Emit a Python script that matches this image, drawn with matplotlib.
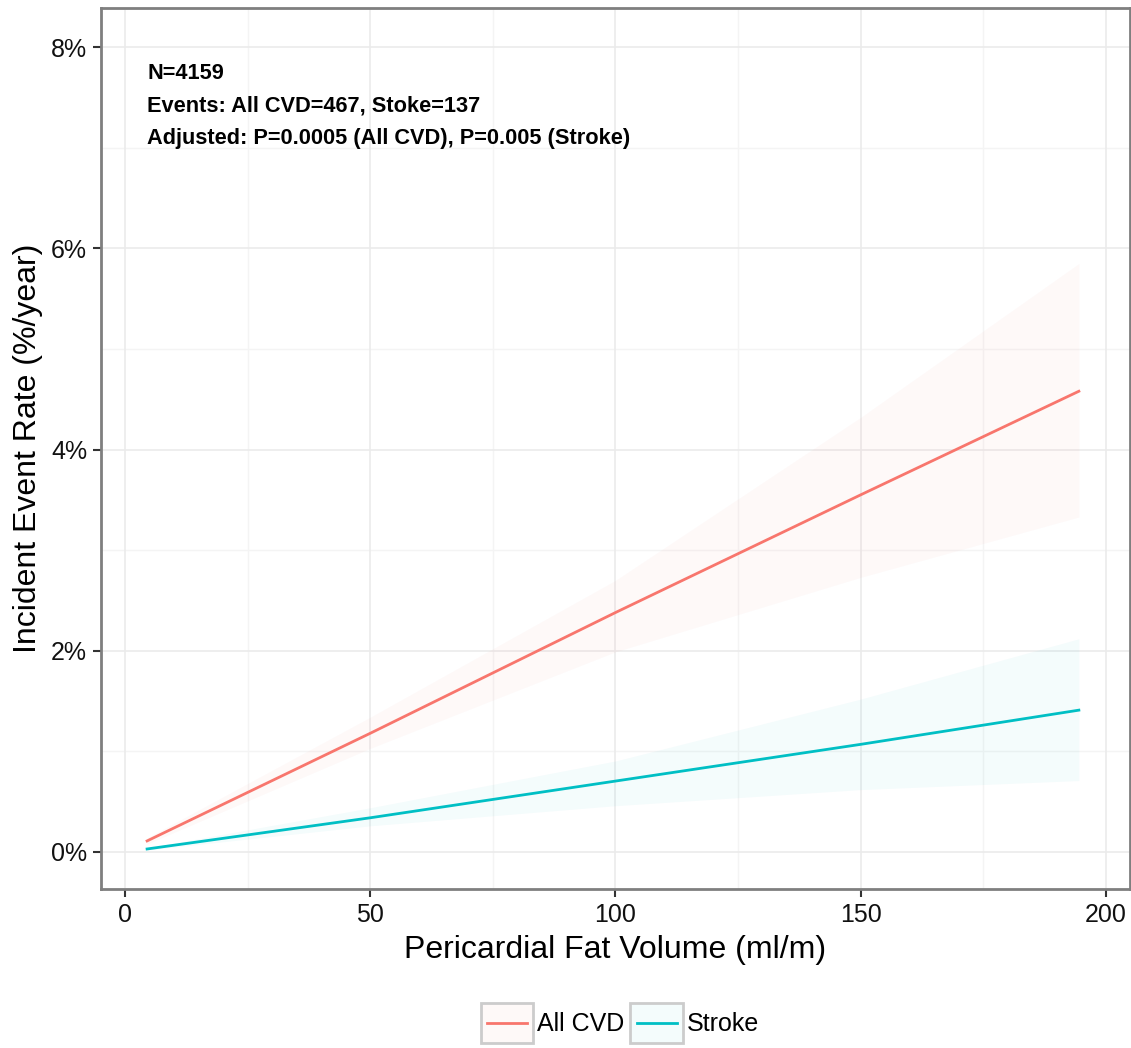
import matplotlib
matplotlib.use("Agg")
import matplotlib.pyplot as plt
from matplotlib.patches import Rectangle
from matplotlib.lines import Line2D
from matplotlib.legend_handler import HandlerBase
import numpy as np

plt.rcParams['font.family'] = ['Liberation Sans', 'DejaVu Sans']

# valores (x en ml/m, y en %/year)
fat_volume = [4.5, 50, 100, 150, 194.5]
cvd_rate = [0.11, 1.18, 2.38, 3.55, 4.58]
cvd_lower = [0.08, 1.03, 1.99, 2.73, 3.33]
cvd_upper = [0.14, 1.34, 2.70, 4.32, 5.85]
stroke_rate = [0.03, 0.34, 0.705, 1.07, 1.41]
stroke_lower = [0.02, 0.26, 0.46, 0.62, 0.71]
stroke_upper = [0.04, 0.44, 0.905, 1.52, 2.12]

series_names = ["All CVD", "Stroke"]
x_ticks = [0, 50, 100, 150, 200]
y_ticks = [0, 2, 4, 6, 8]
notes = ["N=4159", "Events: All CVD=467, Stoke=137",
         "Adjusted: P=0.0005 (All CVD), P=0.005 (Stroke)"]

red = "#F8766D"
cyan = "#00BFC4"
band_alpha = 0.045


# clave de leyenda: caja gris con relleno tenue y linea en el medio
class KeyHandler(HandlerBase):
    def create_artists(self, legend, orig, xd, yd, w, h, fontsize, trans):
        box = Rectangle((-xd, -yd), w, h, facecolor=orig.get_color(), alpha=band_alpha,
                        edgecolor="none", transform=trans)
        edge = Rectangle((-xd, -yd), w, h, facecolor="none", edgecolor="#CCCCCC",
                         lw=2, transform=trans)
        ln = Line2D([-xd + 0.12 * w, -xd + 0.88 * w], [-yd + h / 2] * 2,
                    color=orig.get_color(), lw=2, transform=trans)
        return [box, edge, ln]


fig = plt.figure(figsize=(11.31, 10.48), dpi=100)
ax = fig.add_axes([0.0893, 0.1517, 0.9097, 0.8407])

# cuadricula estilo theme_bw
for v in [25, 75, 125, 175]:
    ax.axvline(v, color="#F4F4F4", lw=1, zorder=0)
for v in [1, 3, 5, 7]:
    ax.axhline(v, color="#F4F4F4", lw=1, zorder=0)
for v in x_ticks:
    ax.axvline(v, color="#EBEBEB", lw=1.2, zorder=0)
for v in y_ticks:
    ax.axhline(v, color="#EBEBEB", lw=1.2, zorder=0)

ax.fill_between(fat_volume, cvd_lower, cvd_upper, color=red, alpha=band_alpha, lw=0, zorder=1)
ax.fill_between(fat_volume, stroke_lower, stroke_upper, color=cyan, alpha=band_alpha, lw=0, zorder=1)
l1, = ax.plot(fat_volume, cvd_rate, color=red, lw=2, zorder=2)
l2, = ax.plot(fat_volume, stroke_rate, color=cyan, lw=2, zorder=2)

ax.set_xlim(-4.9, 204.9)
ax.set_ylim(-0.368, 8.39)
ax.set_xticks(x_ticks)
ax.set_xticklabels([str(t) for t in x_ticks])
ax.set_yticks(y_ticks)
ax.set_yticklabels([f"{t}%" for t in y_ticks])
ax.tick_params(axis="both", labelsize=18, length=6, width=1.5, color="#333333",
               labelcolor="#111111", pad=4)
for s in ax.spines.values():
    s.set_color("#7F7F7F")
    s.set_linewidth(2)

ax.set_xlabel("Pericardial Fat Volume (ml/m)", fontsize=23, labelpad=6)
ax.set_ylabel("Incident Event Rate (%/year)", fontsize=23, labelpad=6)

for i, t in enumerate(notes):
    ax.text(4.5, 7.74 - 0.325 * i, t, fontsize=15.7, fontweight="bold",
            ha="left", va="center")

fig.legend([l1, l2], series_names, loc="center", bbox_to_anchor=(0.548, 0.024),
           ncol=2, frameon=False, fontsize=18, handlelength=2.1, handleheight=2.1,
           handletextpad=0.15, columnspacing=0.25,
           handler_map={Line2D: KeyHandler()})

fig.savefig("out.png", dpi=100)
